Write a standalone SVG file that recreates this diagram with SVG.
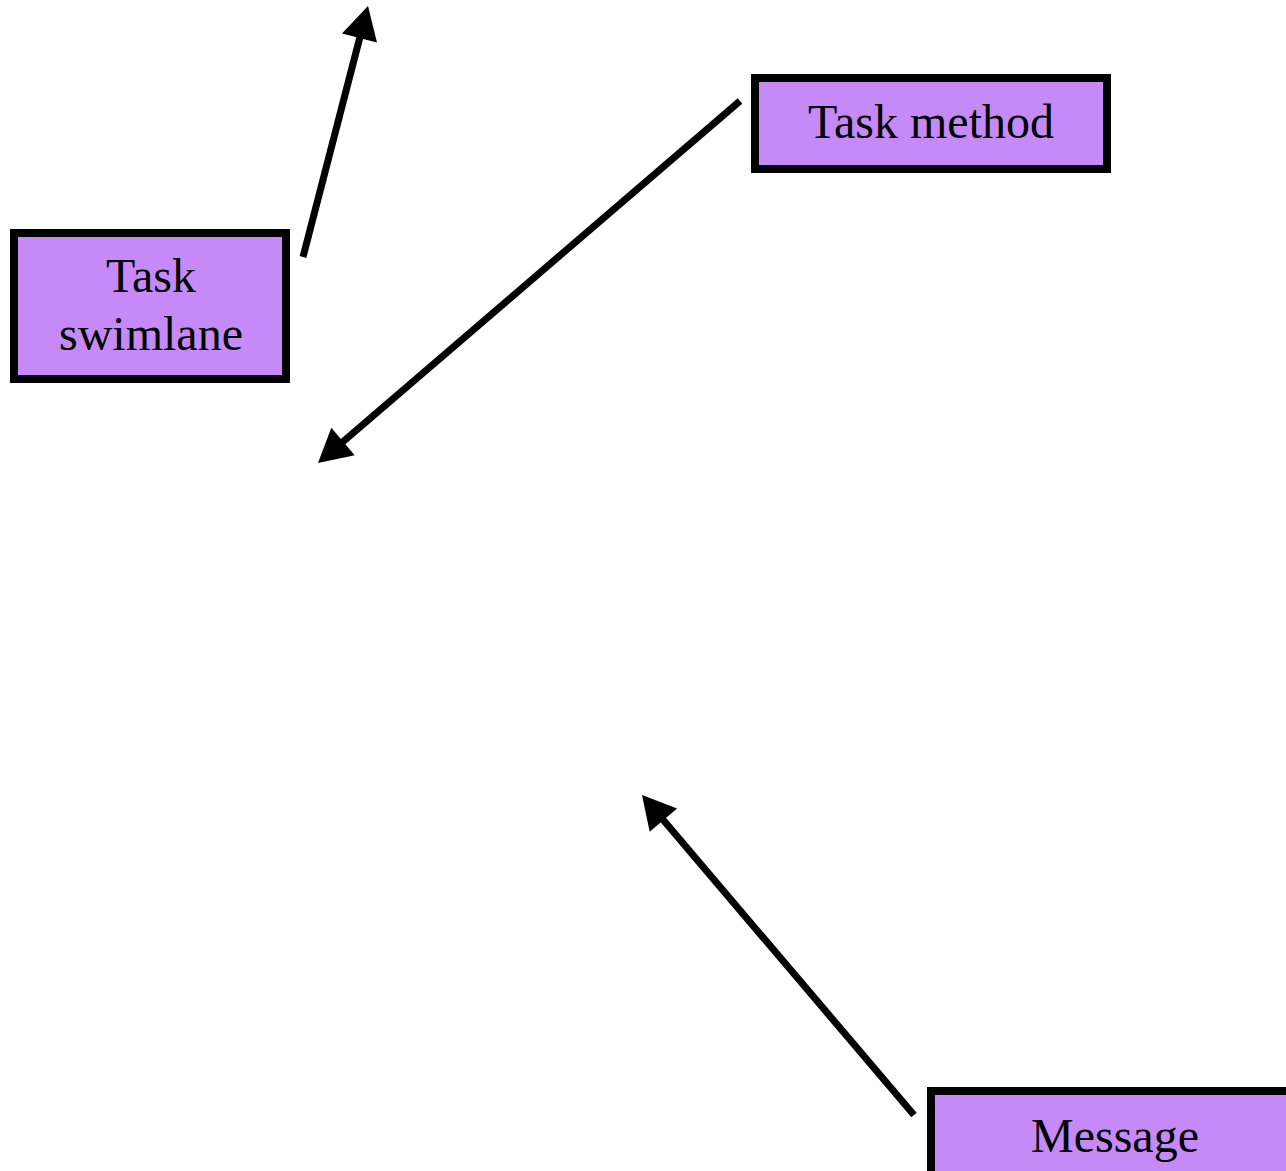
<svg xmlns="http://www.w3.org/2000/svg" width="1286" height="1171" viewBox="0 0 1286 1171">
  <style>
    .box { fill: #c58af8; stroke: #000; stroke-width: 8; }
    .label { font-family: "Liberation Serif", "Times New Roman", serif; font-size: 48px; fill: #000; text-anchor: middle; }
    .edge { stroke: #000; stroke-width: 7; fill: none; }
    .head { fill: #000; stroke: none; }
  </style>
  <rect width="1286" height="1171" fill="#fff"/>

  <g id="connectors">
    <line class="edge" x1="303" y1="257" x2="361" y2="33"/>
    <polygon class="head" points="368,6 342,33.4 377,42.6"/>

    <line class="edge" x1="740" y1="101" x2="339.3" y2="444.8"/>
    <polygon class="head" points="318,463 331.3,427.8 354.7,455.2"/>

    <line class="edge" x1="914" y1="1115" x2="660.1" y2="816.3"/>
    <polygon class="head" points="642,795 649.7,831.8 677.1,808.4"/>
  </g>

  <g id="task-swimlane">
    <rect class="box" x="14" y="233" width="272" height="146"/>
    <text class="label" x="151" y="292">Task</text>
    <text class="label" x="151" y="350">swimlane</text>
  </g>

  <g id="task-method">
    <rect class="box" x="755" y="78" width="352" height="91"/>
    <text class="label" x="931" y="138">Task method</text>
  </g>

  <g id="message">
    <rect class="box" x="931" y="1091" width="368" height="91"/>
    <text class="label" x="1115" y="1152">Message</text>
  </g>
</svg>
